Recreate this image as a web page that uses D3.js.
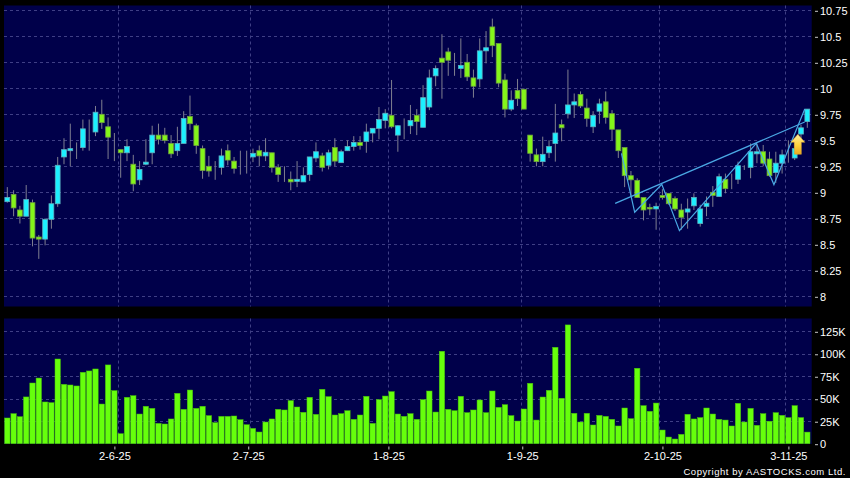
<!DOCTYPE html>
<html lang="en">
	<head>
		<meta charset="utf-8">
		<title>Stock chart</title>
		<script type="text/javascript" src="https://cdn.jsdelivr.net/npm/d3@7"></script>
		<style type="text/css">
			html, body { margin: 0; padding: 0; background: #000; overflow: hidden; }
			text { font-family: "Liberation Sans", Arial, sans-serif; fill: #fff; }
		</style>
	</head>
	<body>
		<script type="text/javascript">
			//Daily prices, one entry per trading day
			var open = [
				8.91,8.98,8.83,8.77,8.90,8.57,8.55,8.74,8.89,9.34,
				9.40,9.43,9.43,9.555,9.58,9.75,9.63,9.45,9.41,9.38,
				9.27,9.12,9.27,9.38,9.55,9.55,9.47,9.40,9.47,9.73,
				9.64,9.42,9.25,9.205,9.24,9.40,9.30,9.25,9.30,9.34,
				9.40,9.35,9.38,9.24,9.12,9.125,9.105,9.10,9.17,9.33,
				9.35,9.26,9.43,9.285,9.40,9.44,9.48,9.49,9.57,9.615,
				9.69,9.74,9.55,9.644,9.64,9.74,9.625,9.82,10.12,10.29,
				10.35,10.19,10.19,10.25,10.10,10.09,10.36,10.59,10.43,10.08,
				9.80,9.98,9.99,9.55,9.36,9.295,9.38,9.47,9.65,9.755,
				9.84,9.94,9.81,9.63,9.78,9.87,9.756,9.60,9.43,9.16,
				9.115,8.95,8.855,8.84,8.97,8.99,8.94,8.83,8.81,8.87,
				8.70,8.865,9.00,8.96,9.125,9.13,9.125,9.224,9.24,9.37,
				9.39,9.32,9.19,9.28,9.394,9.33,9.56,9.68
			];
			var close = [
				8.95,8.85,8.77,8.93,8.56,8.55,8.74,8.89,9.26,9.41,
				9.42,9.43,9.61,9.555,9.77,9.67,9.53,9.45,9.38,9.44,
				9.08,9.22,9.29,9.55,9.51,9.50,9.37,9.47,9.71,9.66,
				9.45,9.21,9.205,9.205,9.35,9.31,9.23,9.25,9.30,9.375,
				9.35,9.385,9.24,9.17,9.12,9.10,9.125,9.16,9.34,9.39,
				9.24,9.38,9.30,9.39,9.44,9.48,9.45,9.58,9.615,9.70,
				9.76,9.63,9.64,9.644,9.69,9.68,9.91,10.10,10.19,10.25,
				10.27,10.19,10.22,10.11,10.02,10.36,10.39,10.41,10.05,9.80,
				9.885,9.90,9.80,9.375,9.295,9.365,9.44,9.57,9.62,9.84,
				9.87,9.83,9.71,9.74,9.85,9.72,9.606,9.40,9.16,9.12,
				8.95,8.83,8.84,8.865,8.95,8.89,8.84,8.76,8.84,8.95,
				8.84,8.895,8.97,9.15,9.035,9.13,9.256,9.224,9.39,9.39,
				9.28,9.16,9.28,9.36,9.394,9.42,9.62,9.80
			];
			var high = [
				9.05,9.02,8.87,9.07,8.93,8.59,8.75,8.97,9.34,9.52,
				9.66,9.48,9.70,9.70,9.83,9.89,9.72,9.57,9.41,9.51,
				9.36,9.30,9.51,9.64,9.66,9.62,9.55,9.63,9.78,9.93,
				9.66,9.45,9.35,9.30,9.42,9.46,9.34,9.40,9.40,9.42,
				9.45,9.52,9.38,9.27,9.25,9.20,9.30,9.24,9.34,9.48,
				9.38,9.41,9.52,9.41,9.50,9.54,9.54,9.66,9.615,9.82,
				9.80,10.08,9.644,9.71,9.84,9.80,10.03,10.18,10.22,10.52,
				10.39,10.34,10.48,10.33,10.18,10.48,10.55,10.67,10.43,10.14,
				9.98,10.09,10.0,9.55,9.42,9.535,9.50,9.85,9.70,10.18,
				9.95,9.97,9.90,9.78,9.90,9.97,9.79,9.60,9.43,9.205,
				9.135,8.95,8.89,8.90,9.03,8.99,8.96,8.89,8.94,8.99,
				8.88,8.96,9.06,9.18,9.18,9.18,9.295,9.26,9.47,9.47,
				9.455,9.39,9.39,9.41,9.50,9.52,9.65,9.80
			];
			var low = [
				8.90,8.77,8.70,8.77,8.48,8.36,8.49,8.65,8.86,9.27,
				9.25,9.32,9.40,9.40,9.54,9.61,9.32,9.30,9.14,9.30,
				9.01,9.07,9.26,9.27,9.46,9.47,9.33,9.35,9.47,9.60,
				9.37,9.13,9.15,9.12,9.17,9.26,9.18,9.17,9.18,9.29,
				9.25,9.30,9.19,9.10,9.10,9.02,9.05,9.10,9.11,9.29,
				9.20,9.22,9.25,9.285,9.40,9.40,9.41,9.38,9.48,9.51,
				9.615,9.615,9.39,9.51,9.56,9.55,9.625,9.79,10.02,9.90,
				10.12,10.12,10.10,10.07,9.91,10.01,10.24,10.30,10.01,9.72,
				9.78,9.83,9.80,9.295,9.25,9.25,9.33,9.295,9.49,9.71,
				9.715,9.81,9.63,9.57,9.66,9.66,9.50,9.33,9.05,8.96,
				8.95,8.73,8.78,8.64,8.93,8.88,8.82,8.64,8.65,8.83,
				8.67,8.77,8.86,8.96,8.99,9.03,9.08,9.215,9.135,9.28,
				9.25,9.15,9.09,9.18,9.285,9.31,9.50,9.62
			];

			//Volume in thousands
			var volume = [
				28.6,33.4,30,52,67.5,73,46.4,45.6,94.2,66,
				65.3,64.2,79.4,80.9,83.1,44.1,87.6,59,11.1,51.6,
				53.4,33,41.6,39.3,22.6,21.9,27.5,56,38.2,59.7,
				39.3,41.6,31.2,23.4,30.4,30.4,30.8,26.7,21.1,17,
				13,24.1,27.5,38.2,37.5,47.9,40.8,34.9,51.6,32.6,
				60.5,52.3,31.9,33.4,36.7,27.1,31.9,52.7,22.6,49,
				53,57.9,33,30.4,33.4,27.1,49,58.6,35.2,102.8,
				38.2,36.7,52.7,34.5,37.5,48.6,34.5,58.6,40.4,43.4,
				31.2,25.2,38.6,67.2,26.3,51.9,59.4,107.2,50.5,132.1,
				33.8,24.1,33.8,20.8,31.5,30.4,27.1,19.7,39.7,27.8,
				83.9,42.3,36,45.2,15.2,7.4,5.2,10.4,32.7,27.5,
				29,39.7,33,27.1,26.3,19.7,44.9,24.1,39.3,20.4,
				33.4,25,34.5,31.5,29,42.3,29,12.9
			];

			//Axis ticks
			var priceTicks = [8,8.25,8.5,8.75,9,9.25,9.5,9.75,10,10.25,10.5,10.75];
			var volumeTicks = [0,25,50,75,100,125];
			var dateLabels = ["2-6-25","2-7-25","1-8-25","1-9-25","2-10-25","3-11-25"];
			var dateTickBars = [17,38.25,60.5,81.75,104,124];
			var dateGridBars = [17.5,38.5,60.5,81.5,103.5,123.5];

			//Trend lines drawn on the chart, [bar, price]
			var resistanceLine = [[96.5,8.894],[126.6,9.676]];
			var patternLine = [[97.5,9.375],[99.6,8.808],[103.9,9.077],[106.7,8.631],[118.9,9.471],[121.7,9.074],[126.6,9.801]];

			//Width and height
			var w = 850;
			var h = 478;
			var plotLeft = 4;
			var plotRight = 811.7;

			var x = d3.scaleLinear().domain([0, 127]).range([7.3, 807.3]);
			var y = d3.scaleLinear().domain([8, 10.75]).range([296.3, 10.3]);
			var yVol = d3.scaleLinear().domain([0, 125]).range([443.7, 331.3]);

			var svg = d3.select("body")
						.append("svg")
						.attr("width", w)
						.attr("height", h)
						.style("display", "block");

			svg.append("rect").attr("width", w).attr("height", h).attr("fill", "#000");

			//Panel backgrounds
			var panels = [[5.5, 306.5], [318.5, 444]];
			svg.selectAll("rect.panel")
			   .data(panels)
			   .enter()
			   .append("rect")
			   .attr("class", "panel")
			   .attr("x", plotLeft)
			   .attr("y", function(d) { return d[0]; })
			   .attr("width", plotRight - plotLeft)
			   .attr("height", function(d) { return d[1] - d[0]; })
			   .attr("fill", "#00004a");

			//Grid
			var gridColor = "#3f3f85";
			function hGrid(ticks, scale) {
				svg.append("g")
				   .selectAll("line")
				   .data(ticks)
				   .enter()
				   .append("line")
				   .attr("x1", plotLeft)
				   .attr("x2", plotRight)
				   .attr("y1", function(d) { return Math.round(scale(d)) + 0.5; })
				   .attr("y2", function(d) { return Math.round(scale(d)) + 0.5; })
				   .attr("stroke", gridColor)
				   .attr("stroke-dasharray", "3,3");
			}
			hGrid(priceTicks, y);
			hGrid(volumeTicks.slice(1), yVol);

			panels.forEach(function(p) {
				svg.append("g")
				   .selectAll("line")
				   .data(dateGridBars)
				   .enter()
				   .append("line")
				   .attr("x1", function(d) { return Math.round(x(d)) + 0.5; })
				   .attr("x2", function(d) { return Math.round(x(d)) + 0.5; })
				   .attr("y1", p[0])
				   .attr("y2", p[1])
				   .attr("stroke", gridColor)
				   .attr("stroke-dasharray", "3,3");
			});

			//Candles
			var bars = d3.range(open.length);
			var bodyW = 4.8;

			svg.append("g")
			   .selectAll("line")
			   .data(bars)
			   .enter()
			   .append("line")
			   .attr("x1", function(i) { return x(i); })
			   .attr("x2", function(i) { return x(i); })
			   .attr("y1", function(i) { return y(high[i]); })
			   .attr("y2", function(i) { return y(low[i]); })
			   .attr("stroke", "#7f7f90")
			   .attr("stroke-width", 1);

			svg.append("g")
			   .selectAll("rect")
			   .data(bars)
			   .enter()
			   .append("rect")
			   .attr("x", function(i) { return x(i) - bodyW / 2; })
			   .attr("y", function(i) { return y(Math.max(open[i], close[i])); })
			   .attr("width", bodyW)
			   .attr("height", function(i) { return Math.abs(y(open[i]) - y(close[i])); })
			   .attr("fill", function(i) {
				   if (open[i] === close[i]) return "#7f7f90";
				   return close[i] > open[i] ? "#1cf0ff" : "#84f51a";
			   })
			   .attr("stroke", function(i) {
				   if (open[i] === close[i]) return "#7f7f90";
				   return close[i] > open[i] ? "#5fb0c0" : "#6fa040";
			   })
			   .attr("stroke-width", 0.8);

			//Hand drawn trend lines
			var trendPath = d3.line()
							  .x(function(d) { return x(d[0]); })
							  .y(function(d) { return y(d[1]); });

			svg.selectAll("path.trend")
			   .data([resistanceLine, patternLine])
			   .enter()
			   .append("path")
			   .attr("class", "trend")
			   .attr("d", trendPath)
			   .attr("fill", "none")
			   .attr("stroke", "#4aa8e4")
			   .attr("stroke-width", 1.2);

			//Buy signal arrow above the bar
			var defs = svg.append("defs");
			var grad = defs.append("linearGradient")
						   .attr("id", "arrowFill")
						   .attr("x1", 0).attr("x2", 0).attr("y1", 0).attr("y2", 1);
			grad.append("stop").attr("offset", "0%").attr("stop-color", "#fff0a0");
			grad.append("stop").attr("offset", "55%").attr("stop-color", "#ffd23c");
			grad.append("stop").attr("offset", "100%").attr("stop-color", "#e8a820");

			var arrowX = x(125.5);
			var arrowTip = y(9.558);
			svg.append("path")
			   .attr("d", d3.line()([
				   [arrowX, arrowTip],
				   [arrowX + 7, arrowTip + 8],
				   [arrowX + 3.5, arrowTip + 8],
				   [arrowX + 3.5, arrowTip + 20],
				   [arrowX - 3.5, arrowTip + 20],
				   [arrowX - 3.5, arrowTip + 8],
				   [arrowX - 7, arrowTip + 8]
			   ]) + "Z")
			   .attr("fill", "url(#arrowFill)")
			   .attr("stroke", "#d8a030")
			   .attr("stroke-width", 0.5);

			//Volume bars
			svg.append("g")
			   .selectAll("rect")
			   .data(bars)
			   .enter()
			   .append("rect")
			   .attr("x", function(i) { return x(i) - 2.7; })
			   .attr("y", function(i) { return yVol(volume[i]); })
			   .attr("width", 5.4)
			   .attr("height", function(i) { return yVol(0) - yVol(volume[i]); })
			   .attr("fill", "#66ff0c")
			   .attr("stroke", "#46c00a")
			   .attr("stroke-width", 0.5);

			//Axes
			function styleAxis(g) {
				g.select(".domain").remove();
				g.selectAll("line").attr("stroke", "#c8c8c8");
				g.selectAll("text").style("font-size", "11px").style("fill", "#fff");
			}

			svg.append("g")
			   .attr("transform", "translate(815,0.5)")
			   .call(d3.axisRight(y).tickValues(priceTicks).tickSize(3).tickPadding(2).tickFormat(d3.format("~g")))
			   .call(styleAxis);

			svg.append("g")
			   .attr("transform", "translate(815,0.5)")
			   .call(d3.axisRight(yVol).tickValues(volumeTicks).tickSize(3).tickPadding(2)
					   .tickFormat(function(d) { return d === 0 ? "0" : d + "K"; }))
			   .call(styleAxis);

			svg.append("g")
			   .attr("transform", "translate(0,446.5)")
			   .call(d3.axisBottom(x).tickValues(dateTickBars).tickSize(3).tickPadding(3)
					   .tickFormat(function(d, i) { return dateLabels[i]; }))
			   .call(styleAxis);

			svg.append("text")
			   .attr("x", 846)
			   .attr("y", 475)
			   .attr("text-anchor", "end")
			   .style("font-size", "9.5px")
			   .style("letter-spacing", "0.55px")
			   .text("Copyright by AASTOCKS.com Ltd.");
		</script>
	</body>
</html>
